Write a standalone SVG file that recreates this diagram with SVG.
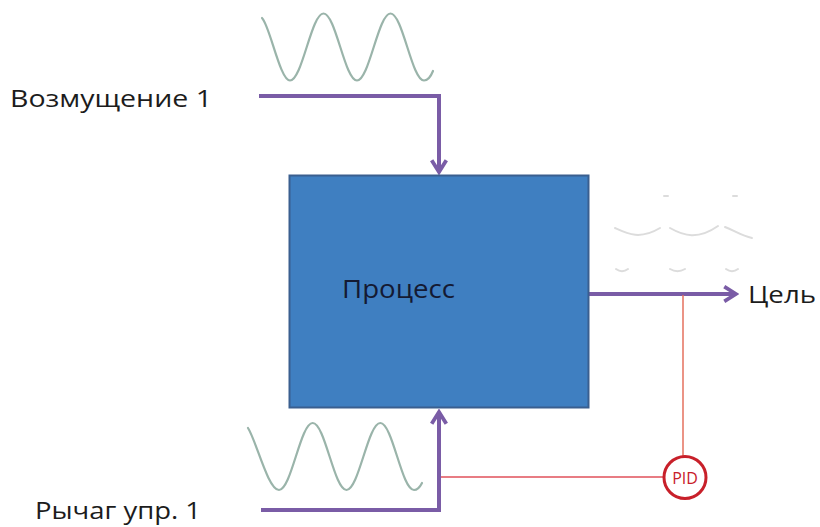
<svg xmlns="http://www.w3.org/2000/svg" width="820" height="527" viewBox="0 0 820 527">
<style>
.lbl{font-family:"Open Sans","Liberation Sans","DejaVu Sans",sans-serif;fill:#1c1c1c;}
.wave{fill:none;stroke:#9AB4AA;stroke-width:2.2;stroke-linecap:round;}
.faint{fill:none;stroke:#DCDCDC;stroke-width:2;stroke-linecap:round;}
.flow{fill:none;stroke:#7A5CA6;stroke-width:4;}
.ctl{fill:none;stroke:#E0505A;stroke-width:1.5;}
</style>
<defs>
<marker id="chev" viewBox="0 0 12 12" refX="10" refY="6" markerWidth="4.4" markerHeight="4.4" orient="auto" markerUnits="strokeWidth">
<polyline points="2,1 10,6 2,11" fill="none" stroke="#7A5CA6" stroke-width="2.6" stroke-linejoin="miter"/>
</marker>
</defs>
<rect width="820" height="527" fill="#fff"/>
<g id="signals">
<path class="wave" d="M262,18 C270,26 280,80.5 290,80.5 C302.2,80.5 311.3,13.5 323.5,13.5 C335.7,13.5 344.8,80.5 357,80.5 C369.2,80.5 378.3,13.5 390.5,13.5 C402.7,13.5 411.8,80.5 424,80.5 C428,80.5 431,76 433,71"/>
<path class="wave" d="M248,428 C256,440 268,490 279,490 C291.3,490 300.4,423 312.7,423 C325,423 334.2,490 346.5,490 C358.8,490 368,423 380.3,423 C392.6,423 401.7,490 414,490 C418,490 420,487 422,483"/>
<g id="faint-waves">
<path class="faint" d="M615,228 C628,234 640,240 660,228"/>
<path class="faint" d="M670,228 C684,236 698,240 718,226"/>
<path class="faint" d="M725,227 C735,231 742,236 752,238"/>
<path class="faint" d="M616,269 C620,272 624,272 628,269"/>
<path class="faint" d="M670,269 C675,272 680,272 685,269"/>
<path class="faint" d="M726,269 C730,272 734,272 738,269"/>
<path class="faint" d="M664,196 L668,196"/>
<path class="faint" d="M733,196 L737,196"/>
</g>
</g>
<g id="connectors">
<path class="flow" d="M259,96 H439 V172" marker-end="url(#chev)"/>
<path class="flow" d="M261,510 H439 V412" marker-end="url(#chev)"/>
<path class="flow" d="M589,294 H736" marker-end="url(#chev)"/>
<path class="ctl" d="M441,477 H664"/>
<path class="ctl" d="M683,295 V456" style="stroke:#E4705E"/>
</g>
<g id="process">
<rect x="289.5" y="175.5" width="299" height="232" fill="#3F7FC1" stroke="#3A5F8F" stroke-width="2"/>
<text class="lbl" x="342" y="298" font-size="25" textLength="113" lengthAdjust="spacingAndGlyphs" style="fill:#141a33">Процесс</text>
</g>
<g id="disturbance">
<text class="lbl" x="10" y="107" font-size="24" textLength="202" lengthAdjust="spacingAndGlyphs">Возмущение 1</text>
</g>
<g id="lever">
<text class="lbl" x="35" y="519" font-size="24" textLength="166" lengthAdjust="spacingAndGlyphs">Рычаг упр. 1</text>
</g>
<g id="target">
<text class="lbl" x="748" y="303" font-size="24" textLength="68" lengthAdjust="spacingAndGlyphs">Цель</text>
</g>
<g id="pid">
<circle cx="685" cy="477.5" r="21" fill="#fff" stroke="#C8202A" stroke-width="3"/>
<text x="685" y="483.5" font-family="Open Sans, Liberation Sans, sans-serif" font-size="16" fill="#C8202A" text-anchor="middle">PID</text>
</g>
</svg>
